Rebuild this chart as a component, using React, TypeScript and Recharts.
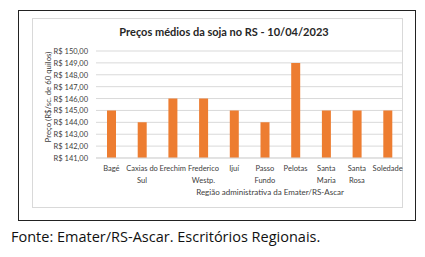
import React from 'react';
import { BarChart, Bar, XAxis, YAxis, CartesianGrid } from 'recharts';

const categories = ['Bagé', 'Caxias do\nSul', 'Erechim', 'Frederico\nWestp.', 'Ijuí', 'Passo\nFundo', 'Pelotas', 'Santa\nMaria', 'Santa\nRosa', 'Soledade'];
const prices = [145, 144, 146, 146, 145, 144, 149, 145, 145, 145];
const yTicks = [141, 142, 143, 144, 145, 146, 147, 148, 149, 150];

const data = categories.map((c, i) => ({ regiao: c, preco: prices[i] }));

const FONT = 'Lato, "Open Sans", sans-serif';

const fmt = (v: number) => 'R$ ' + v.toFixed(2).replace('.', ',');

const XTick = (props: any) => {
  const { x, y, payload } = props;
  const lines = String(payload.value).split('\n');
  return (
    <g transform={`translate(${x},${y})`}>
      {lines.map((l: string, i: number) => (
        <text key={i} x={0} y={0} dy={4.5 + i * 12.5} textAnchor="middle" fontSize={7.5} fill="#404040" fontFamily={FONT}>
          {l}
        </text>
      ))}
    </g>
  );
};

const YTick = (props: any) => {
  const { x, y, payload } = props;
  return (
    <text x={x} y={y} dy={3} textAnchor="end" fontSize={7.5} fill="#404040" fontFamily={FONT}>
      {fmt(payload.value)}
    </text>
  );
};

export default function App() {
  return (
    <div style={{ position: 'absolute', left: 0, top: 0, width: 425, height: 257, background: '#fff', fontFamily: FONT }}>
      <div style={{ position: 'absolute', left: 18, top: 10, width: 396, height: 209, border: '1px solid #222' }} />
      <div style={{ position: 'absolute', left: 32, top: 18, width: 369, height: 188, border: '1px solid #d9d9d9' }} />
      <div style={{ position: 'absolute', left: 0, top: 25, width: 448, textAlign: 'center', fontSize: 11, fontWeight: 700, color: '#262626' }}>
        Preços médios da soja no RS - 10/04/2023
      </div>
      <div style={{ position: 'absolute', left: 48, top: 97, width: 0, height: 0 }}>
        <div style={{ position: 'absolute', transform: 'translate(-50%,-50%) rotate(-90deg)', whiteSpace: 'nowrap', fontSize: 7.8, color: '#404040', left: 0, top: 0 }}>
          Preço (R$/sc. de 60 quilos)
        </div>
      </div>
      <div style={{ position: 'absolute', left: 100, top: 187, width: 340, textAlign: 'center', fontSize: 8, color: '#404040' }}>
        Região administrativa da Emater/RS-Ascar
      </div>
      <div style={{ position: 'absolute', left: 11, top: 227, fontSize: 14.5, color: '#111', fontFamily: '"Open Sans", sans-serif' }}>
        Fonte: Emater/RS-Ascar. Escritórios Regionais.
      </div>
      <div style={{ position: 'absolute', left: 0, top: 0 }}>
        <BarChart width={425} height={257} data={data} margin={{ top: 51, right: 22, bottom: 59, left: 36 }} barCategoryGap="35%">
          <CartesianGrid vertical={false} stroke="#d9d9d9" />
          <XAxis dataKey="regiao" tick={<XTick />} tickLine={false} axisLine={{ stroke: '#d9d9d9' }} interval={0} height={40} />
          <YAxis
            domain={[141, 150]}
            ticks={yTicks}
            width={60}
            tickSize={0}
            tickMargin={8}
            axisLine={false}
            tickLine={false}
            tick={<YTick />}
            interval={0}
            allowDataOverflow
          />
          <Bar dataKey="preco" fill="#ED7D31" isAnimationActive={false} barSize={9} />
        </BarChart>
      </div>
    </div>
  );
}
